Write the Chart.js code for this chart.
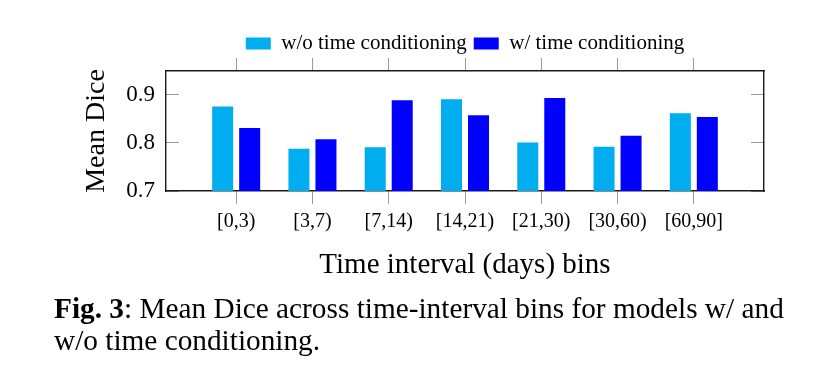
<!DOCTYPE html>
<html>
<head>
<meta charset="utf-8">
<script src="https://cdn.jsdelivr.net/npm/chart.js@4.4.1/dist/chart.umd.min.js"></script>
<style>
  html, body { margin: 0; padding: 0; background: #fff; }
  #wrap { position: relative; width: 838px; height: 388px; overflow: hidden; }
  #c { position: absolute; left: 0; top: 0; }
  #caption {
    position: absolute; left: 54px; top: 292px;
    font-family: 'Liberation Serif', 'DejaVu Serif', serif;
    font-size: 29.3px; line-height: 32px; color: #000; white-space: nowrap;
  }
</style>
</head>
<body>
<div id="wrap">
  <canvas id="c" width="838" height="388"></canvas>
  <div id="caption"><b>Fig. 3</b>: Mean Dice across time-interval bins for models w/ and<br>w/o time conditioning.</div>
</div>
<script>
// ---- data ----
const categories = ['[0,3)', '[3,7)', '[7,14)', '[14,21)', '[21,30)', '[30,60)', '[60,90]'];
const withoutTime = [0.876, 0.788, 0.791, 0.891, 0.801, 0.792, 0.862];
const withTime    = [0.831, 0.808, 0.889, 0.858, 0.894, 0.815, 0.854];
const yTicks = [0.7, 0.8, 0.9];
const seriesNames = ['w/o time conditioning', 'w/ time conditioning'];

const SERIF = "'Liberation Serif', 'DejaVu Serif', serif";
Chart.defaults.font.family = SERIF;
Chart.defaults.color = '#000';

const toPoints = arr => arr.map((v, i) => ({ x: i, y: v }));
const catTicks = axis => { axis.ticks = categories.map((c, i) => ({ value: i })); };

const TICK_GREY = '#9a9a9a';
const FRAME = '#1a1a1a';

new Chart(document.getElementById('c'), {
  type: 'bar',
  data: {
    datasets: [
      { label: seriesNames[0], data: toPoints(withoutTime), backgroundColor: '#00ADEE', borderWidth: 0 },
      { label: seriesNames[1], data: toPoints(withTime), backgroundColor: '#0000FF', borderWidth: 0 }
    ]
  },
  options: {
    responsive: false,
    animation: false,
    devicePixelRatio: 1,
    categoryPercentage: 0.708,
    barPercentage: 0.778,
    layout: { padding: { left: 70, right: 74, top: 26, bottom: 105 } },
    plugins: {
      tooltip: { enabled: false },
      legend: {
        position: 'top',
        fullSize: false,
        labels: {
          boxWidth: 25, boxHeight: 12, padding: 7,
          font: { size: 21, family: SERIF }, color: '#000'
        }
      }
    },
    scales: {
      x: {
        type: 'linear', position: 'bottom',
        min: -0.92, max: 6.92, offset: false,
        afterBuildTicks: catTicks,
        afterFit: s => { s.height = 92; },
        ticks: {
          callback: v => categories[v] ?? '',
          font: { size: 20, family: SERIF }, color: '#000',
          padding: 6, maxRotation: 0, autoSkip: false
        },
        grid: { offset: false, drawOnChartArea: false, drawTicks: true, tickLength: 13, color: TICK_GREY, lineWidth: 1 },
        border: { display: true, color: FRAME, width: 1.4 },
        title: { display: true, text: 'Time interval (days) bins', font: { size: 29, family: SERIF }, color: '#000', padding: { top: 0, bottom: 0 } }
      },
      x2: {
        type: 'linear', position: 'top', axis: 'x',
        min: -0.92, max: 6.92, offset: false,
        afterBuildTicks: catTicks,
        afterFit: s => { s.height = 7; },
        ticks: { display: false },
        grid: { offset: false, drawOnChartArea: false, drawTicks: true, tickLength: 13, color: TICK_GREY, lineWidth: 1 },
        border: { display: true, color: FRAME, width: 1.4 }
      },
      y: {
        type: 'linear', position: 'left',
        min: 0.7, max: 0.95,
        afterBuildTicks: axis => { axis.ticks = yTicks.map(v => ({ value: v })); },
        afterFit: s => { s.width = 96; },
        ticks: {
          callback: v => Number(v).toFixed(1),
          font: { size: 23, family: SERIF }, color: '#000', padding: 24
        },
        grid: { drawOnChartArea: false, drawTicks: true, tickLength: -13, color: TICK_GREY, lineWidth: 1 },
        border: { display: true, color: FRAME, width: 1.4 },
        title: { display: true, text: 'Mean Dice', font: { size: 28, family: SERIF }, color: '#000', padding: { top: 10, bottom: 0 } }
      },
      y2: {
        type: 'linear', position: 'right', axis: 'y',
        min: 0.7, max: 0.95,
        afterBuildTicks: axis => { axis.ticks = yTicks.map(v => ({ value: v })); },
        afterFit: s => { s.width = 0; },
        ticks: { display: false },
        grid: { drawOnChartArea: false, drawTicks: true, tickLength: -13, color: TICK_GREY, lineWidth: 1 },
        border: { display: true, color: FRAME, width: 1.4 }
      }
    }
  }
});
</script>
</body>
</html>
